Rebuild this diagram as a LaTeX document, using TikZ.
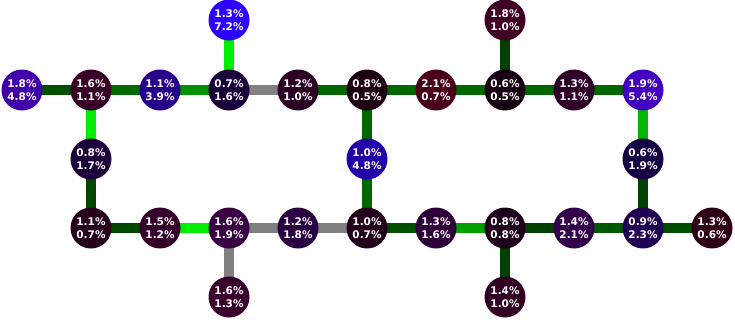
\documentclass[tikz,border=0pt]{standalone}
\usepackage{fontspec}
\setmainfont{DejaVu Sans}
\usetikzlibrary{backgrounds}
\newcommand\pctnode[5]{%
  \pgfmathtruncatemacro\rrval{min(255,round(35.4*#4))}%
  \pgfmathtruncatemacro\bbval{min(255,round(35.4*#5))}%
  \definecolor{fill#1}{RGB}{\rrval,0,\bbval}%
  \node[pct, fill=fill#1] (#1) at (#2,#3) {#4\%\\#5\%};}
\begin{document}
\begin{tikzpicture}[x=1pt,y=-1pt,
  pct/.style={circle, minimum size=41pt, inner sep=0pt, text=white,
    font=\bfseries\fontsize{10.5}{12.5}\selectfont, align=center},
  eg/.style={line width=10pt, draw={rgb,255:red,0;green,#1;blue,0}},
  egray/.style={line width=10pt, draw={rgb,255:red,128;green,128;blue,128}}]
\useasboundingbox (0,0) rectangle (735,319);
% nodes
\pctnode{n3a}{229}{20}{1.3}{7.2}
\pctnode{n7a}{505}{20}{1.8}{1.0}
\pctnode{n0b}{22}{90}{1.8}{4.8}
\pctnode{n1b}{91}{90}{1.6}{1.1}
\pctnode{n2b}{160}{90}{1.1}{3.9}
\pctnode{n3b}{229}{90}{0.7}{1.6}
\pctnode{n4b}{298}{90}{1.2}{1.0}
\pctnode{n5b}{367}{90}{0.8}{0.5}
\pctnode{n6b}{436}{90}{2.1}{0.7}
\pctnode{n7b}{505}{90}{0.6}{0.5}
\pctnode{n8b}{574}{90}{1.3}{1.1}
\pctnode{n9b}{643}{90}{1.9}{5.4}
\pctnode{n1c}{91}{159}{0.8}{1.7}
\pctnode{n5c}{367}{159}{1.0}{4.8}
\pctnode{n9c}{643}{159}{0.6}{1.9}
\pctnode{n1d}{91}{228}{1.1}{0.7}
\pctnode{n2d}{160}{228}{1.5}{1.2}
\pctnode{n3d}{229}{228}{1.6}{1.9}
\pctnode{n4d}{298}{228}{1.2}{1.8}
\pctnode{n5d}{367}{228}{1.0}{0.7}
\pctnode{n6d}{436}{228}{1.3}{1.6}
\pctnode{n7d}{505}{228}{0.8}{0.8}
\pctnode{n8d}{574}{228}{1.4}{2.1}
\pctnode{n9d}{643}{228}{0.9}{2.3}
\pctnode{n10d}{712}{228}{1.3}{0.6}
\pctnode{n3e}{229}{297}{1.6}{1.3}
\pctnode{n7e}{505}{297}{1.4}{1.0}
% edges
\begin{scope}[on background layer]
\draw[eg=80] (n0b.center) -- (n1b.center);
\draw[eg=106] (n1b.center) -- (n2b.center);
\draw[eg=144] (n2b.center) -- (n3b.center);
\draw[egray] (n3b.center) -- (n4b.center);
\draw[eg=102] (n4b.center) -- (n5b.center);
\draw[eg=102] (n5b.center) -- (n6b.center);
\draw[eg=102] (n6b.center) -- (n7b.center);
\draw[eg=100] (n7b.center) -- (n8b.center);
\draw[eg=102] (n8b.center) -- (n9b.center);
\draw[eg=238] (n3a.center) -- (n3b.center);
\draw[eg=64] (n7a.center) -- (n7b.center);
\draw[eg=238] (n1b.center) -- (n1c.center);
\draw[eg=72] (n1c.center) -- (n1d.center);
\draw[eg=102] (n5b.center) -- (n5c.center);
\draw[eg=102] (n5c.center) -- (n5d.center);
\draw[eg=184] (n9b.center) -- (n9c.center);
\draw[eg=64] (n9c.center) -- (n9d.center);
\draw[egray] (n3d.center) -- (n3e.center);
\draw[eg=64] (n7d.center) -- (n7e.center);
\draw[eg=72] (n1d.center) -- (n2d.center);
\draw[eg=238] (n2d.center) -- (n3d.center);
\draw[egray] (n3d.center) -- (n4d.center);
\draw[egray] (n4d.center) -- (n5d.center);
\draw[eg=80] (n5d.center) -- (n6d.center);
\draw[eg=160] (n6d.center) -- (n7d.center);
\draw[eg=64] (n7d.center) -- (n8d.center);
\draw[eg=88] (n8d.center) -- (n9d.center);
\draw[eg=77] (n9d.center) -- (n10d.center);
\end{scope}
\end{tikzpicture}
\end{document}
